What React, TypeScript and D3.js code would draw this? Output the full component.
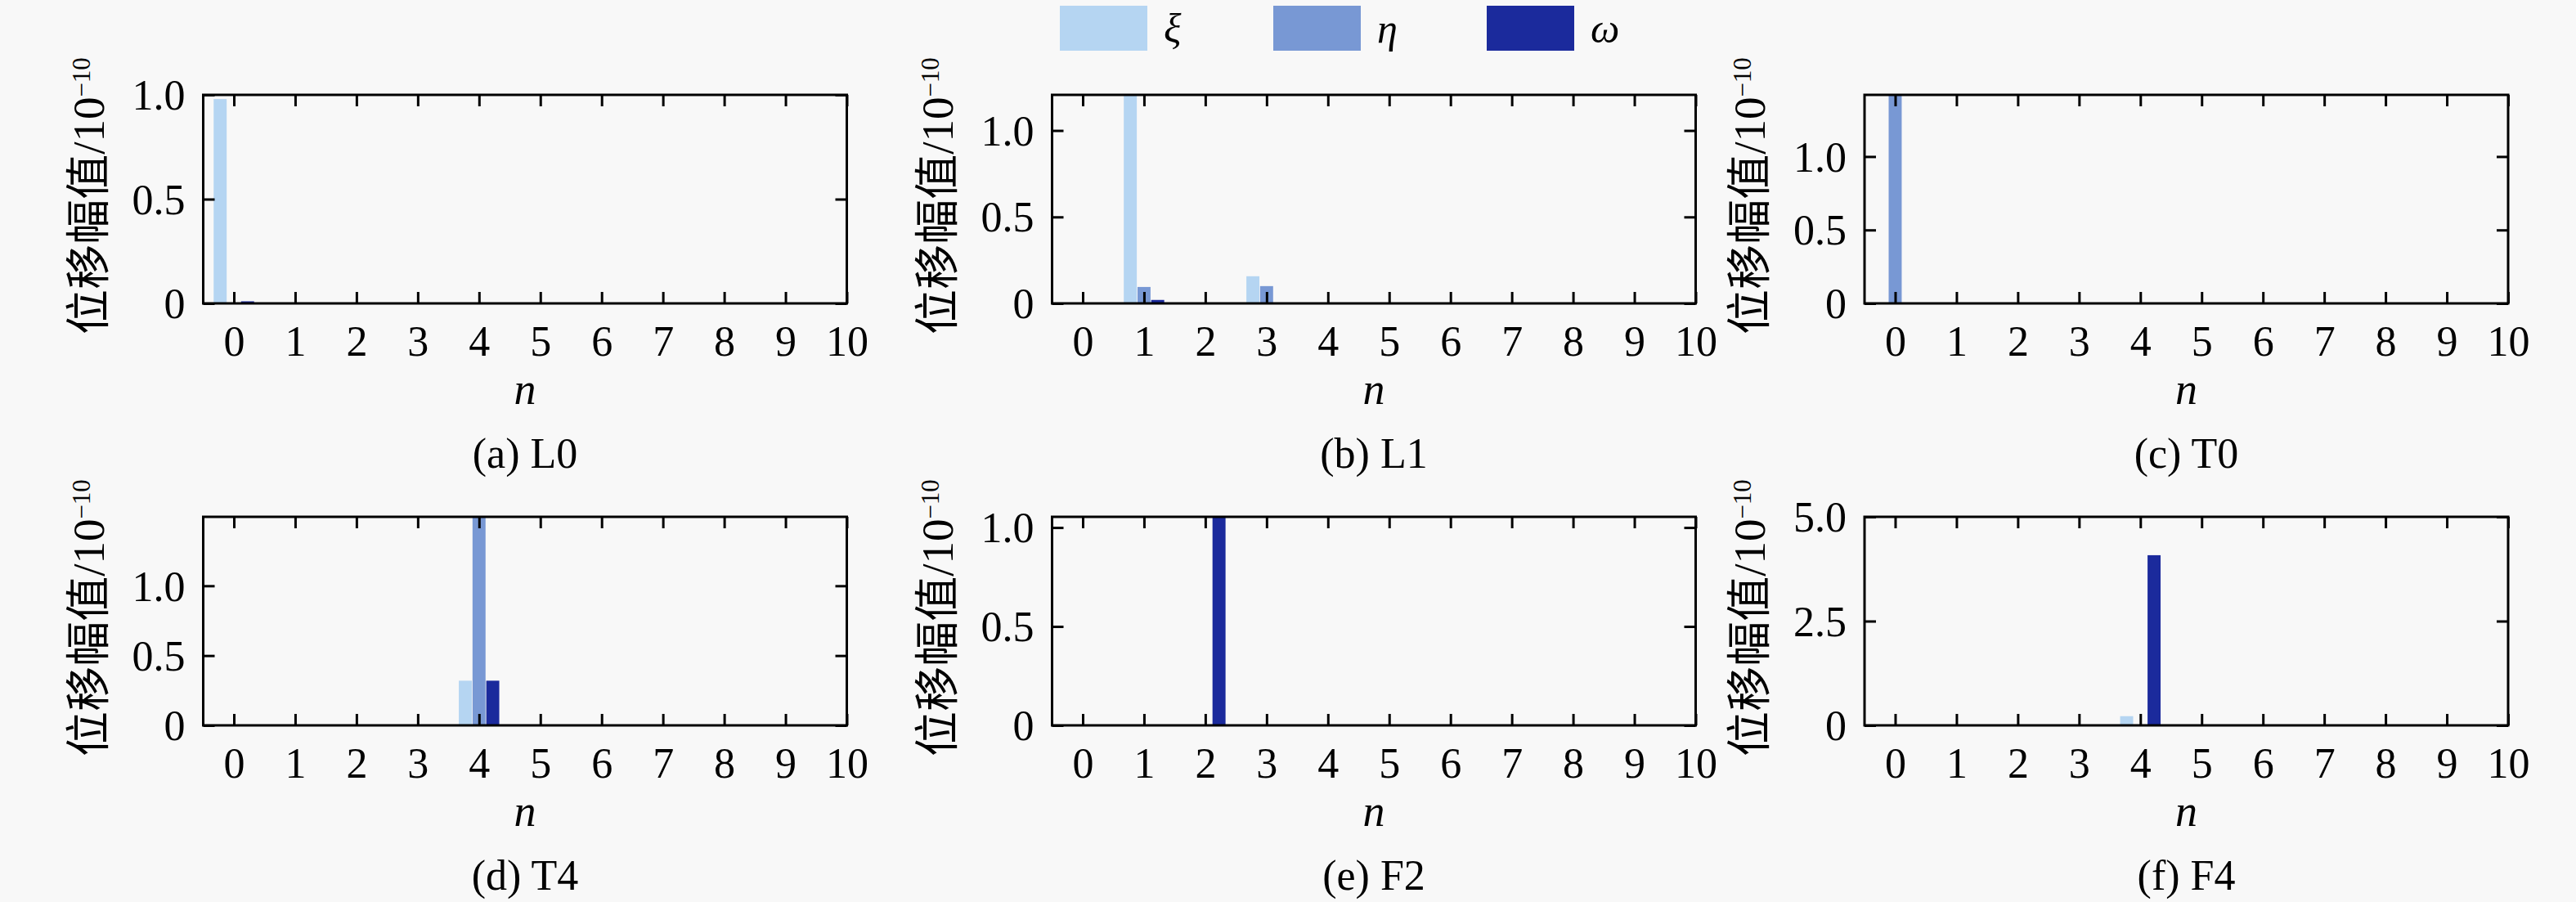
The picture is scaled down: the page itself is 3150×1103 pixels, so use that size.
import * as d3 from "d3";
import { useEffect, useRef } from "react";

const WIDTH = 3150;
const HEIGHT = 1103;

const SERIF = "'Liberation Serif', 'Times New Roman', 'Noto Sans CJK SC', serif";

// mode index n shown on the x axis
const N_VALUES = [0, 1, 2, 3, 4, 5, 6, 7, 8, 9, 10];
const SERIES = ["ξ", "η", "ω"];
const COLORS = ["#b5d5f2", "#7898d4", "#1b2a9c"];

// (a) L0
const L0_XI = [0.98, 0, 0, 0, 0, 0, 0, 0, 0, 0, 0];
const L0_ETA = [0, 0, 0, 0, 0, 0, 0, 0, 0, 0, 0];
const L0_OMEGA = [0.01, 0, 0, 0, 0, 0, 0, 0, 0, 0, 0];
// (b) L1
const L1_XI = [0, 1.22, 0, 0.157, 0, 0, 0, 0, 0, 0, 0];
const L1_ETA = [0, 0.095, 0, 0.1, 0, 0, 0, 0, 0, 0, 0];
const L1_OMEGA = [0, 0.02, 0, 0, 0, 0, 0, 0, 0, 0, 0];
// (c) T0
const T0_XI = [0, 0, 0, 0, 0, 0, 0, 0, 0, 0, 0];
const T0_ETA = [1.46, 0, 0, 0, 0, 0, 0, 0, 0, 0, 0];
const T0_OMEGA = [0, 0, 0, 0, 0, 0, 0, 0, 0, 0, 0];
// (d) T4
const T4_XI = [0, 0, 0, 0, 0.32, 0, 0, 0, 0, 0, 0];
const T4_ETA = [0, 0, 0, 0, 1.52, 0, 0, 0, 0, 0, 0];
const T4_OMEGA = [0, 0, 0, 0, 0.32, 0, 0, 0, 0, 0, 0];
// (e) F2
const F2_XI = [0, 0, 0, 0, 0, 0, 0, 0, 0, 0, 0];
const F2_ETA = [0, 0, 0, 0, 0, 0, 0, 0, 0, 0, 0];
const F2_OMEGA = [0, 0, 1.08, 0, 0, 0, 0, 0, 0, 0, 0];
// (f) F4
const F4_XI = [0, 0, 0, 0, 0.22, 0, 0, 0, 0, 0, 0];
const F4_ETA = [0, 0, 0, 0, 0.02, 0, 0, 0, 0, 0, 0];
const F4_OMEGA = [0, 0, 0, 0, 4.08, 0, 0, 0, 0, 0, 0];

const CAPTIONS = ["(a) L0", "(b) L1", "(c) T0", "(d) T4", "(e) F2", "(f) F4"];
const Y_MAX = [1.0, 1.206, 1.42, 1.494, 1.054, 5.0];
const Y_TICKS = [
  [0, 0.5, 1.0],
  [0, 0.5, 1.0],
  [0, 0.5, 1.0],
  [0, 0.5, 1.0],
  [0, 0.5, 1.0],
  [0, 2.5, 5.0],
];
const PANEL_DATA = [
  [L0_XI, L0_ETA, L0_OMEGA],
  [L1_XI, L1_ETA, L1_OMEGA],
  [T0_XI, T0_ETA, T0_OMEGA],
  [T4_XI, T4_ETA, T4_OMEGA],
  [F2_XI, F2_ETA, F2_OMEGA],
  [F4_XI, F4_ETA, F4_OMEGA],
];

const COL_LEFT = [248.5, 1286.5, 2280];
const ROW_TOP = [116, 632];
const PW = 787;
const PH = 255;
const TICK = 14;

const yFormat = (d: number) => (d === 0 ? "0" : d3.format(".1f")(d));

export default function App() {
  const ref = useRef<SVGSVGElement>(null);

  useEffect(() => {
    if (!ref.current) return;
    const svg = d3.select(ref.current);
    svg.selectAll("*").remove();

    svg
      .append("rect")
      .attr("width", WIDTH)
      .attr("height", HEIGHT)
      .attr("fill", "#f8f8f8");

    const inner = d3
      .scaleBand<string>()
      .domain(SERIES)
      .range([-0.33, 0.33])
      .paddingInner(0.05);

    CAPTIONS.forEach((caption, i) => {
      const left = COL_LEFT[i % 3];
      const top = ROW_TOP[Math.floor(i / 3)];
      const g = svg.append("g").attr("transform", `translate(${left},${top})`);

      const x = d3.scaleLinear().domain([-0.5, 10]).range([0, PW]);
      const y = d3.scaleLinear().domain([0, Y_MAX[i]]).range([PH, 0]);

      const clipId = `clip-${i}`;
      g.append("clipPath")
        .attr("id", clipId)
        .append("rect")
        .attr("width", PW)
        .attr("height", PH);

      const bars = PANEL_DATA[i]
        .flatMap((values, s) => values.map((v, k) => ({ n: N_VALUES[k], v, s })))
        .filter((d) => d.v > 0);

      g.append("g")
        .attr("clip-path", `url(#${clipId})`)
        .selectAll("rect")
        .data(bars)
        .join("rect")
        .attr("x", (d) => x(d.n + (inner(SERIES[d.s]) ?? 0)))
        .attr("width", x(inner.bandwidth()) - x(0))
        .attr("y", (d) => y(d.v))
        .attr("height", (d) => PH - y(d.v))
        .attr("fill", (d) => COLORS[d.s]);

      // inward ticks on all four sides
      const bottom = g
        .append("g")
        .attr("transform", `translate(0,${PH})`)
        .call(
          d3.axisBottom(x).tickValues(N_VALUES).tickSize(-TICK).tickPadding(27).tickFormat(d3.format("d")),
        );
      g.append("g").call(d3.axisTop(x).tickValues(N_VALUES).tickSize(-TICK).tickFormat(() => ""));
      const leftAxis = g
        .append("g")
        .call(d3.axisLeft(y).tickValues(Y_TICKS[i]).tickSize(-TICK).tickPadding(22).tickFormat((d) => yFormat(+d)));
      g.append("g")
        .attr("transform", `translate(${PW},0)`)
        .call(d3.axisRight(y).tickValues(Y_TICKS[i]).tickSize(-TICK).tickFormat(() => ""));

      g.selectAll(".domain").remove();
      g.selectAll(".tick line").attr("stroke", "#000").attr("stroke-width", 3);
      [bottom, leftAxis].forEach((a) =>
        a
          .attr("font-family", null)
          .attr("font-size", null)
          .selectAll("text")
          .style("font-family", SERIF)
          .style("font-size", "52px")
          .attr("fill", "#000"),
      );
      leftAxis.selectAll("text").attr("dy", "0.34em");

      g.append("rect")
        .attr("width", PW)
        .attr("height", PH)
        .attr("fill", "none")
        .attr("stroke", "#000")
        .attr("stroke-width", 3);

      const yLabel = g
        .append("text")
        .attr("transform", `translate(-122,${PH / 2 - 4}) rotate(-90)`)
        .attr("text-anchor", "middle")
        .style("font-family", SERIF)
        .style("font-size", "55px")
        .text("位移幅值/10");
      yLabel.append("tspan").attr("dy", -17).style("font-size", "31px").text("−10");

      g.append("text")
        .attr("x", PW / 2)
        .attr("y", PH + 123)
        .attr("text-anchor", "middle")
        .style("font-family", SERIF)
        .style("font-style", "italic")
        .style("font-size", "54px")
        .text("n");

      g.append("text")
        .attr("x", PW / 2)
        .attr("y", PH + 201)
        .attr("text-anchor", "middle")
        .style("font-family", SERIF)
        .style("font-size", "52px")
        .text(caption);
    });

    // legend across the top
    const legendX = d3.scalePoint<string>().domain(SERIES).range([1296, 1818]);
    const legend = svg
      .append("g")
      .selectAll("g")
      .data(SERIES)
      .join("g")
      .attr("transform", (d) => `translate(${legendX(d)},0)`);
    legend
      .append("rect")
      .attr("y", 7)
      .attr("width", 107)
      .attr("height", 55)
      .attr("fill", (_, i) => COLORS[i]);
    legend
      .append("text")
      .attr("x", 127)
      .attr("y", 52)
      .style("font-family", SERIF)
      .style("font-style", "italic")
      .style("font-size", "50px")
      .text((d) => d);
  }, []);

  return (
    <svg
      ref={ref}
      width={WIDTH}
      height={HEIGHT}
      style={{ position: "absolute", left: 0, top: 0 }}
    />
  );
}
